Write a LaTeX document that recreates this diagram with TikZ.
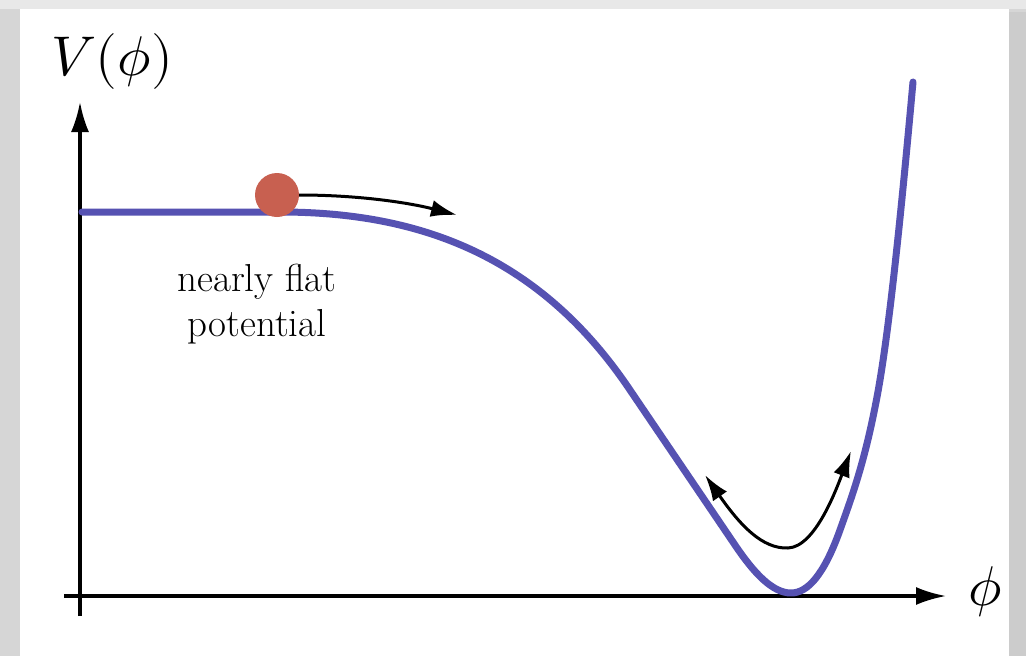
\documentclass[tikz,border=0pt]{standalone}
\usepackage{fontspec}
\usepackage{unicode-math}
\setmathfont{Latin Modern Math}
\usetikzlibrary{arrows.meta}
\definecolor{curveblue}{RGB}{86,82,178}
\definecolor{ballred}{RGB}{200,96,80}
\definecolor{framegray}{RGB}{214,214,214}
\tikzset{
  axisline/.style={line width=3.2pt, -{Latex[length=30pt,width=18pt]}},
  potcurve/.style={line width=7pt, curveblue, line cap=round, line join=round},
  motion/.style={line width=3pt, black},
  ballnode/.style={circle, fill=ballred, minimum size=44pt, inner sep=0pt},
  labeltext/.style={font=\fontsize{39}{45}\selectfont, align=center},
  axislabel/.style={font=\fontsize{56}{60}\selectfont, inner sep=0pt}
}
\begin{document}
\begin{tikzpicture}[x=1pt,y=-1pt]
  \useasboundingbox (0,0) rectangle (1026,656);
  \fill[framegray] (0,0) rectangle (1026,656);
  \fill[gray!40] (1009,12) rectangle (1026,656);
  \fill[gray!18] (0,0) rectangle (1026,9);
  \fill[white] (20,9) rectangle (1009,656);

  % axes
  \coordinate (yb) at (80,616);
  \coordinate (yt) at (80,102);
  \coordinate (xl) at (64,596);
  \coordinate (xr) at (946,596);
  \draw[axisline] (yb) -- (yt);
  \draw[axisline] (xl) -- (xr);

  % labels
  \node[axislabel, anchor=base west] (vlab) at (51,75) {$V(\phi)$};
  \node[axislabel] (plab) at (985,592) {$\phi$};

  % potential curve
  \draw[potcurve] (82,212) -- (280,212)
     .. controls (420,212) and (540,256) .. (630,390)
     -- (735,545)
     .. controls (753.7,572.7) and (772.3,593) .. (791,593)
     .. controls (807.3,593) and (823.7,575.6) .. (840,530)
     .. controls (852.3,495.5) and (864.7,462.2) .. (877,397)
     .. controls (889,333.4) and (901,214) .. (913,82);

  % ball and arrows
  \node[ballnode] (ball) at (277,195) {};
  \coordinate (topend) at (457,215);
  \draw[motion, -{Latex[length=26pt,width=17pt]}] (ball.east)
     .. controls (360,195) and (410,203) .. (topend);

  \coordinate (ll) at (705,475);
  \coordinate (lb) at (788,548);
  \coordinate (rr) at (851,451);
  \draw[motion, {Latex[length=26pt,width=17pt]}-{Latex[length=26pt,width=17pt]}]
     (ll) .. controls (740,525) and (762,549) .. (lb)
     .. controls (815,547) and (836,490) .. (rr);

  \node[labeltext] (txt) at (257,304) {nearly flat\\potential};
\end{tikzpicture}
\end{document}
